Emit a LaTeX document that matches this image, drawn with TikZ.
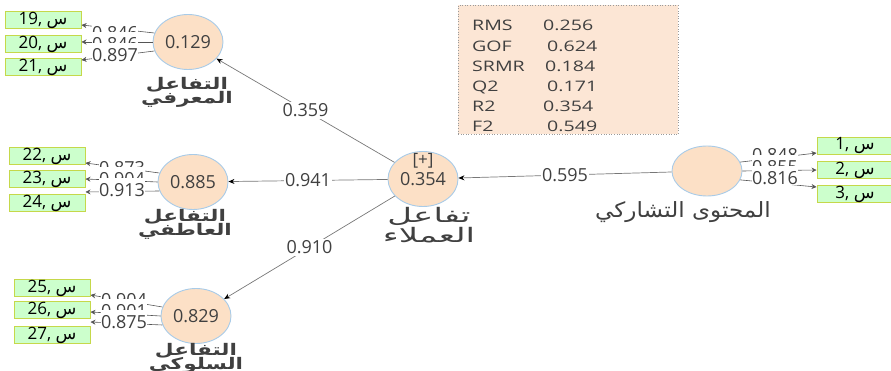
\documentclass[tikz,border=0pt]{standalone}
\usepackage{fontspec}
\setmainfont{Open Sans}
\newfontfamily\statsfont[FakeStretch=1.35]{Open Sans}
\newfontfamily\arabicfont[Script=Arabic]{DejaVu Sans}
\newfontfamily\arabicwide[Script=Arabic,FakeStretch=1.35]{DejaVu Sans}
\newfontfamily\arabicwider[Script=Arabic,FakeStretch=1.7]{DejaVu Sans}
\newfontfamily\arabicshared[Script=Arabic,FakeStretch=1.1]{DejaVu Sans}
\TeXXeTstate=1
\newcommand\tightlines{\lineskiplimit=-20pt\relax}
\usetikzlibrary{shapes.geometric,arrows.meta}

\definecolor{latfill}{HTML}{FCE0C6}
\definecolor{latborder}{HTML}{A8CBE8}
\definecolor{indfill}{HTML}{CCFFCC}
\definecolor{indborder}{HTML}{C5D84A}
\definecolor{statfill}{HTML}{FCE6D5}
\definecolor{statborder}{HTML}{9A9A9A}
\definecolor{txt}{HTML}{404040}
\definecolor{loadgray}{HTML}{555555}
\definecolor{pathgray}{HTML}{777777}

\tikzset{
  latent/.style={ellipse, draw=latborder, fill=latfill, line width=0.9pt,
    minimum width=70pt, minimum height=55pt, inner sep=0pt, text=txt,
    font=\fontsize{18}{19}\selectfont},
  indicator/.style={rectangle, draw=indborder, fill=indfill, line width=1pt,
    minimum width=76pt, minimum height=17pt, inner sep=0pt, text=black,
    font=\fontsize{17}{17}\selectfont},
  loadlabel/.style={fill=white, inner sep=0.5pt, text height=18pt, text depth=0pt,
    anchor=base, text=txt, font=\fontsize{18}{18}\selectfont},
  loadline/.style={draw=loadgray, line width=0.6pt, -{Stealth[length=5pt,width=5pt]}},
  pathline/.style={draw=pathgray, line width=0.7pt, -{Stealth[length=6pt,width=5pt,black]}},
  pathlabel/.style={fill=white, inner sep=1.5pt, text=txt, font=\fontsize{18}{18}\selectfont},
  boldar/.style={align=center, text=txt, inner sep=0pt,
    font={\arabicwide\bfseries\fontsize{16}{14}\selectfont\tightlines}},
  plainar/.style={align=center, text=txt, inner sep=0pt},
  statrow/.style={anchor=base west, inner sep=0pt, text=txt, font=\statsfont\fontsize{14.5}{14.5}\selectfont}
}

\begin{document}
\begin{tikzpicture}[x=1pt,y=-1pt]
\useasboundingbox (0,0) rectangle (891,371);

% fit statistics panel
\node[rectangle, draw=statborder, dotted, fill=statfill, line width=0.6pt,
      minimum width=220pt, minimum height=129pt, inner sep=0pt] (stats) at (568,70) {};
\node[statrow] (sRMS)  at (472,31.0)  {RMS};
\node[statrow] (vRMS)  at (543,31.0)  {0.256};
\node[statrow] (sGOF)  at (472,51.2)  {GOF};
\node[statrow] (vGOF)  at (547,51.2)  {0.624};
\node[statrow] (sSRMR) at (472,71.4)  {SRMR};
\node[statrow] (vSRMR) at (545,71.4)  {0.184};
\node[statrow] (sQ)    at (472,91.6)  {Q2};
\node[statrow] (vQ)    at (547,91.6)  {0.171};
\node[statrow] (sR)    at (472,111.8) {R2};
\node[statrow] (vR)    at (543,111.8) {0.354};
\node[statrow] (sF)    at (472,132.0) {F2};
\node[statrow] (vF)    at (547,132.0) {0.549};

% latent constructs
\node[latent] (cog) at (188,42)  {0.129};
\node[latent] (emo) at (193,182) {0.885};
\node[latent] (beh) at (196,316) {0.829};
\node[latent] (eng) at (423,179) {};
\node[text=txt, inner sep=0pt, font=\fontsize{17}{17}\selectfont] (engplus) at (423,161) {[+]};
\node[text=txt, inner sep=0pt, font=\fontsize{18}{18}\selectfont] (engval) at (423,179) {0.354};
\node[latent, minimum height=50pt] (shr) at (707,171) {};

% construct names
\node[boldar] (cogname) at (187,92) {\beginR التفاعل\endR\\\beginR المعرفي\endR};
\node[boldar] (emoname) at (185,224) {\beginR التفاعل\endR\\\beginR العاطفي\endR};
\node[boldar] (behname) at (196,358) {\beginR التفاعل\endR\\\beginR السلوكي\endR};
\node[plainar, font=\arabicwider\fontsize{20}{20}\selectfont] (engname) at (429,225) {\beginR تفاعل\endR\\\beginR العملاء\endR};
\node[plainar, font=\arabicshared\fontsize{21}{21}\selectfont] (shrname) at (683,212) {\beginR المحتوى التشاركي\endR};

% indicators
\node[indicator] (i19) at (43,20)  {19, {\arabicfont س}};
\node[indicator] (i20) at (43,44)  {20, {\arabicfont س}};
\node[indicator] (i21) at (43,67)  {21, {\arabicfont س}};
\node[indicator] (i22) at (47,156) {22, {\arabicfont س}};
\node[indicator] (i23) at (47,179) {23, {\arabicfont س}};
\node[indicator] (i24) at (47,203) {24, {\arabicfont س}};
\node[indicator] (i25) at (52,288) {25, {\arabicfont س}};
\node[indicator] (i26) at (52,310) {26, {\arabicfont س}};
\node[indicator] (i27) at (52,335) {27, {\arabicfont س}};
\node[indicator] (i1)  at (855,146) {1, {\arabicfont س}};
\node[indicator] (i2)  at (855,170) {2, {\arabicfont س}};
\node[indicator] (i3)  at (855,194) {3, {\arabicfont س}};

% outer loadings
\draw[loadline] (cog.165) -- ([yshift=-5pt]i19.east);
\draw[loadline] (cog.180) -- ([yshift=2pt]i20.east);
\draw[loadline] (cog.195) -- ([yshift=7pt]i21.east);
\draw[loadline] (emo.165) -- ([yshift=-7pt]i22.east);
\draw[loadline] (emo.180) -- (i23.east);
\draw[loadline] (emo.195) -- ([yshift=11pt]i24.east);
\draw[loadline] (beh.165) -- ([yshift=-7pt]i25.east);
\draw[loadline] (beh.180) -- ([yshift=-2pt]i26.east);
\draw[loadline] (beh.195) -- ([yshift=13pt]i27.east);
\draw[loadline] (shr.15)  -- ([yshift=-7pt]i1.west);
\draw[loadline] (shr.0)   -- (i2.west);
\draw[loadline] (shr.-15) -- ([yshift=7pt]i3.west);

\node[loadlabel] (l19) at (115,40)  {0.846};
\node[loadlabel] (l20) at (115,51)  {0.846};
\node[loadlabel] (l21) at (115,62)  {0.897};
\node[loadlabel] (l22) at (122,175) {0.873};
\node[loadlabel] (l23) at (122,186) {0.904};
\node[loadlabel] (l24) at (122,197) {0.913};
\node[loadlabel] (l25) at (124,306) {0.904};
\node[loadlabel] (l26) at (124,317) {0.901};
\node[loadlabel] (l27) at (124,328) {0.875};
\node[loadlabel] (l1)  at (775,162) {0.848};
\node[loadlabel] (l2)  at (775,174) {0.855};
\node[loadlabel] (l3)  at (775,185) {0.816};

% structural paths
\draw[pathline] (eng) -- node[pathlabel] {0.359} (cog);
\draw[pathline] (eng) -- node[pathlabel] {0.941} (emo);
\draw[pathline] (eng) -- node[pathlabel] {0.910} (beh);
\draw[pathline] (shr) -- node[pathlabel] {0.595} (eng);
\end{tikzpicture}
\end{document}
